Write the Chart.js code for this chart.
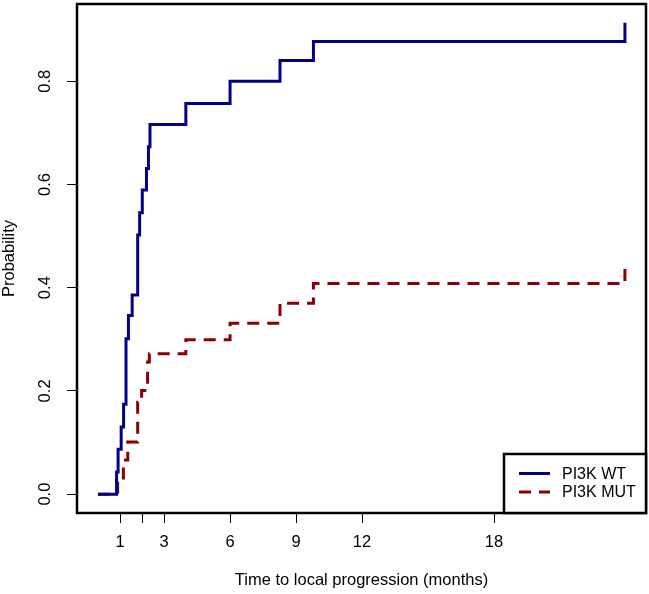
<!DOCTYPE html>
<html>
<head>
<meta charset="utf-8">
<script src="https://cdn.jsdelivr.net/npm/chart.js@4/dist/chart.umd.min.js"></script>
<style>
  html, body { margin: 0; padding: 0; background: #fff; }
  #wrap { width: 649px; height: 594px; }
</style>
</head>
<body>
<div id="wrap"><canvas id="graph_1"></canvas></div>
<script>

// cumulative incidence (months, probability)
var wtTime = [0, 0.84, 0.91, 1.05, 1.16, 1.27, 1.38, 1.55, 1.80, 1.89, 2.01, 2.20, 2.29, 2.36, 3.99, 6.00, 8.27, 9.79, 23.95];
var wtProb = [0, 0.043, 0.087, 0.130, 0.174, 0.301, 0.346, 0.386, 0.502, 0.545, 0.589, 0.631, 0.673, 0.716, 0.757, 0.800, 0.840, 0.877, 0.913];

var mutTime = [0, 0.89, 1.15, 1.35, 1.80, 1.98, 2.25, 2.33, 3.99, 6.00, 8.27, 9.79, 23.95];
var mutProb = [0, 0.025, 0.066, 0.101, 0.178, 0.201, 0.256, 0.272, 0.299, 0.331, 0.370, 0.408, 0.439];

var seriesNames = ['PI3K WT', 'PI3K MUT'];

var xTicks = [1, 2, 3, 6, 9, 12, 18];
var xTickLabels = ['1', '', '3', '6', '9', '12', '18'];
var yTicks = [0, 0.2, 0.4, 0.6, 0.8];
var yTickLabels = ['0.0', '0.2', '0.4', '0.6', '0.8'];

var xTitle = 'Time to local progression (months)';
var yTitle = 'Probability';

var FONT = 'Liberation Sans, Arial, sans-serif';

function toPoints(xs, ys) {
	var pts = [];
	for (var i = 0; i < xs.length; i++) {
		pts.push({x: xs[i], y: ys[i]});
	}
	return pts;
}

// R style axis range: data range + 4% each side
function rRange(arr) {
	var lo = Math.min.apply(null, arr), hi = Math.max.apply(null, arr);
	var pad = (hi - lo) * 0.04;
	return [lo - pad, hi + pad];
}
var xr = rRange(wtTime.concat(mutTime));
var yr = rRange(wtProb.concat(mutProb));

// box round the plot + the legend in the bottom right corner
var boxPlugin = {
	id: 'rbox',
	afterDraw: function(chart) {
		var ctx = chart.ctx, a = chart.chartArea;
		ctx.save();
		ctx.strokeStyle = '#000';
		ctx.lineWidth = 2.5;
		ctx.setLineDash([]);
		ctx.strokeRect(a.left, a.top, a.right - a.left, a.bottom - a.top);

		var w = 142, h = 59;
		var lx = a.right - w, ly = a.bottom - h;
		ctx.fillStyle = '#fff';
		ctx.fillRect(lx, ly, w, h);
		ctx.strokeRect(lx, ly, w, h);

		var ds = chart.data.datasets;
		for (var i = 0; i < ds.length; i++) {
			var yy = ly + 19.5 + i * 18.5;
			ctx.beginPath();
			ctx.strokeStyle = ds[i].borderColor;
			ctx.lineWidth = ds[i].borderWidth;
			ctx.setLineDash(ds[i].borderDash || []);
			ctx.moveTo(lx + 15, yy);
			ctx.lineTo(lx + 46, yy);
			ctx.stroke();
			ctx.setLineDash([]);
			ctx.fillStyle = '#000';
			ctx.font = '16px ' + FONT;
			ctx.textBaseline = 'middle';
			ctx.textAlign = 'left';
			ctx.fillText(ds[i].label, lx + 58, yy + 1);
		}
		ctx.restore();
	}
};

var ctx = document.getElementById('graph_1');
var myChart = new Chart(ctx, {
	type: 'line',
	data: {
		datasets: [{
			label: seriesNames[0],
			data: toPoints(wtTime, wtProb),
			stepped: 'before',
			borderColor: '#00008B',
			backgroundColor: '#00008B',
			borderWidth: 3,
			pointRadius: 0,
			fill: false
		}, {
			label: seriesNames[1],
			data: toPoints(mutTime, mutProb),
			stepped: 'before',
			borderColor: '#8B0000',
			backgroundColor: '#8B0000',
			borderWidth: 3,
			borderDash: [12, 8],
			pointRadius: 0,
			fill: false
		}]
	},
	options: {
		responsive: true,
		maintainAspectRatio: false,
		animation: false,
		devicePixelRatio: 1,
		layout: { padding: { top: 4, right: 3, left: 0, bottom: 0 } },
		plugins: {
			legend: { display: false },
			tooltip: { enabled: false }
		},
		scales: {
			x: {
				type: 'linear',
				min: xr[0],
				max: xr[1],
				afterBuildTicks: function(s) {
					s.ticks = xTicks.map(function(v) { return {value: v}; });
				},
				afterFit: function(s) {
					s.height = 81;
					s.paddingLeft = 0; s.paddingRight = 0;
				},
				border: { display: false },
				grid: { drawOnChartArea: false, drawTicks: true, tickLength: 10, color: '#000', lineWidth: 1 },
				ticks: {
					autoSkip: false,
					maxRotation: 0,
					padding: 10,
					color: '#000',
					font: { family: FONT, size: 16.5 },
					callback: function(v, i) { return xTickLabels[i]; }
				},
				title: {
					display: true,
					text: xTitle,
					color: '#000',
					font: { family: FONT, size: 16.5 },
					padding: { top: 0, bottom: 4 }
				}
			},
			y: {
				type: 'linear',
				min: yr[0],
				max: yr[1],
				afterBuildTicks: function(s) {
					s.ticks = yTicks.map(function(v) { return {value: v}; });
				},
				afterFit: function(s) {
					s.width = 77;
					s.paddingTop = 0; s.paddingBottom = 0;
				},
				border: { display: false },
				grid: { drawOnChartArea: false, drawTicks: true, tickLength: 10, color: '#000', lineWidth: 1 },
				ticks: {
					autoSkip: false,
					minRotation: 90,
					maxRotation: 90,
					crossAlign: 'center',
					padding: 10,
					color: '#000',
					font: { family: FONT, size: 16.5 },
					callback: function(v, i) { return yTickLabels[i]; }
				},
				title: {
					display: true,
					text: yTitle,
					color: '#000',
					font: { family: FONT, size: 16.5 },
					padding: { top: 0, bottom: 0 }
				}
			}
		}
	},
	plugins: [boxPlugin]
});
</script>
</body>
</html>
